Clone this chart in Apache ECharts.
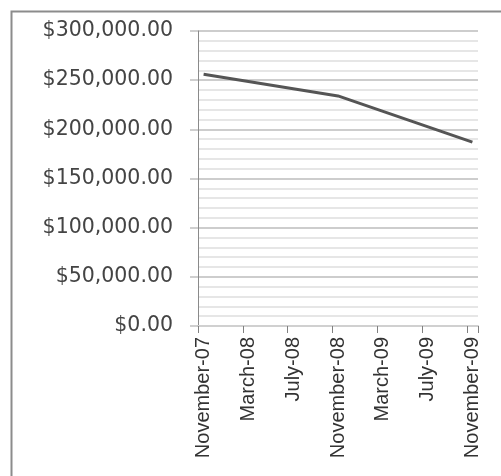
<!DOCTYPE html>
<html>
<head>
<meta charset="utf-8">
<script src="https://cdn.jsdelivr.net/npm/echarts@6/dist/echarts.min.js"></script>
<style>
html,body{margin:0;padding:0;background:#fff;}
#c{width:501px;height:476px;}
</style>
</head>
<body>
<div id="c"></div>
<script>
// Monthly date axis, Nov-07 .. Nov-09
const months = ['November-07','December-07','January-08','February-08','March-08','April-08','May-08','June-08','July-08','August-08','September-08','October-08','November-08','December-08','January-09','February-09','March-09','April-09','May-09','June-09','July-09','August-09','September-09','October-09','November-09'];
const valueMonths = ['November-07','November-08','November-09'];
const values = [256000, 234000, 187000];

const yMin = 0, yMax = 300000, yStep = 50000;

const seriesData = months.map(m => {
  const i = valueMonths.indexOf(m);
  return i >= 0 ? values[i] : null;
});

function money(v){
  return '$' + Number(v).toLocaleString('en-US',{minimumFractionDigits:2,maximumFractionDigits:2});
}

const chart = echarts.init(document.getElementById('c'), null, {renderer:'canvas'});
chart.setOption({
  animation:false,
  backgroundColor:'#fff',
  graphic:[{
    type:'rect', left:9, top:9,
    shape:{x:0,y:0,width:520,height:500},
    style:{fill:'none', stroke:'#8c8c8c', lineWidth:2},
    z:100, silent:true
  }],
  grid:{left:198, top:31, width:280, height:295, containLabel:false},
  xAxis:{
    type:'category',
    data:months,
    boundaryGap:true,
    axisLine:{show:true, lineStyle:{color:'#d0d0d0', width:2}},
    axisTick:{show:true, interval:3, length:7, alignWithLabel:false, lineStyle:{color:'#808080', width:1}},
    axisLabel:{
      interval:3, rotate:90, margin:11,
      fontFamily:'"Liberation Sans", Arial, sans-serif',
      fontSize:20, color:'#333'
    },
    splitLine:{show:false}
  },
  yAxis:{
    type:'value',
    min:yMin, max:yMax, interval:yStep,
    axisLine:{show:true, lineStyle:{color:'#8a8a8a', width:1}},
    axisTick:{show:true, length:8, lineStyle:{color:'#c0c0c0', width:1.5}},
    axisLabel:{
      formatter:money, margin:25,
      fontFamily:'"DejaVu Sans", Verdana, sans-serif',
      fontSize:20.5, color:'#444'
    },
    splitLine:{show:true, lineStyle:{color:'#bdbdbd', width:1.5}},
    minorTick:{show:false, splitNumber:5},
    minorSplitLine:{show:true, lineStyle:{color:'#dedede', width:1.5}}
  },
  series:[{
    type:'line',
    data:seriesData,
    connectNulls:true,
    showSymbol:false,
    symbol:'none',
    lineStyle:{color:'#555555', width:3},
    z:5
  }]
});
</script>
</body>
</html>
